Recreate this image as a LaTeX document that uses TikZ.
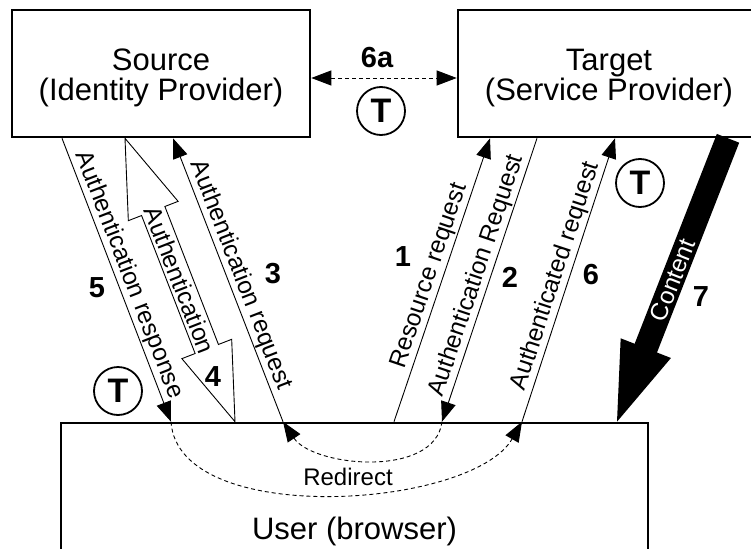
\documentclass[tikz,border=0pt]{standalone}
\usepackage{fontspec}
\setmainfont{Liberation Sans}
\usetikzlibrary{arrows.meta,calc}
\begin{document}
\begin{tikzpicture}[x=1pt,y=-1pt,
  box/.style={draw, line width=2.6pt, inner sep=0pt},
  boxtext/.style={align=center, font=\fontsize{31}{30}\selectfont, inner sep=0pt},
  conn/.style={line width=0.9pt},
  lbl/.style={font=\fontsize{24.5}{26}\selectfont, inner sep=1.5pt},
  num/.style={font=\fontsize{29}{30}\selectfont\bfseries, inner sep=0pt},
  tcirc/.style={draw, circle, line width=1.8pt, minimum size=48pt, inner sep=0pt, font=\fontsize{34}{34}\selectfont\bfseries},
  redir/.style={line width=0.9pt, dash pattern=on 4pt off 3pt},
  fatarrow/.style={line width=0.9pt},
  >={Triangle[length=20pt,width=15pt]}
]
\useasboundingbox (0,0) rectangle (751,548);
\clip (0,0) rectangle (751,548);

% boxes
\node[box, minimum width=298pt, minimum height=127pt] (src) at (161,73.5) {};
\node[box, minimum width=302pt, minimum height=127pt] (tgt) at (609,73.5) {};
\node[box, minimum width=587pt, minimum height=224pt] (usr) at (354.5,535) {};
\node[boxtext] (srcT) at (161,78) {Source\\(Identity Provider)};
\node[boxtext] (tgtT) at (609,78) {Target\\(Service Provider)};
\node[boxtext] (usrT) at (354.5,531) {User (browser)};

% anchor points on the boxes
\coordinate (s5)  at (src.south -| 62,0);
\coordinate (a4t) at (src.south -| 125,0);
\coordinate (s3)  at (src.south -| 173,0);
\coordinate (t1)  at (tgt.south -| 490,0);
\coordinate (t2)  at (tgt.south -| 537,0);
\coordinate (t6)  at (tgt.south -| 615,0);
\coordinate (c0)  at (tgt.south -| 728,0);
\coordinate (u5)  at (usr.north -| 171,0);
\coordinate (a4b) at (usr.north -| 235,0);
\coordinate (u3)  at (usr.north -| 283,0);
\coordinate (u1)  at (usr.north -| 394,0);
\coordinate (u2)  at (usr.north -| 442,0);
\coordinate (u6)  at (usr.north -| 522,0);
\coordinate (ct)  at (usr.north -| 617,0);

% 6a
\draw[redir,<->] (src.east |- 0,78) -- (tgt.west |- 0,78);
\node[num] (n6a) at (377,58) {6a};
\node[tcirc] (T1) at (381,111) {T};

% thin arrows
\draw[conn,->] (s5) -- node[lbl,sloped,above]{Authentication response} (u5);
\draw[conn,<-] (s3) -- node[lbl,sloped,above]{Authentication request} (u3);
\draw[conn,->] (u1) -- node[lbl,sloped,above]{Resource request} (t1);
\draw[conn,<-] (u2) -- node[lbl,sloped,above]{Authentication Request} (t2);
\draw[conn,->] (u6) -- node[lbl,sloped,above]{Authenticated request} (t6);

% hollow double arrow 4
\draw[fatarrow, fill=white] (a4t)
  -- ($(a4t)!78pt!(a4b)!26.7pt!90:(a4b)$)
  -- ($(a4t)!78pt!(a4b)!12.5pt!90:(a4b)$)
  -- ($(a4b)!78pt!(a4t)!12.5pt!-90:(a4t)$)
  -- ($(a4b)!78pt!(a4t)!26.7pt!-90:(a4t)$)
  -- (a4b)
  -- ($(a4b)!78pt!(a4t)!26.7pt!90:(a4t)$)
  -- ($(a4b)!78pt!(a4t)!12.5pt!90:(a4t)$)
  -- ($(a4t)!78pt!(a4b)!12.5pt!-90:(a4b)$)
  -- ($(a4t)!78pt!(a4b)!26.7pt!-90:(a4b)$)
  -- cycle;
\path (a4t) -- node[lbl,sloped]{Authentication} (a4b);

% black content arrow 7
\fill (ct)
  -- ($(ct)!79pt!(c0)!27pt!90:(c0)$)
  -- ($(ct)!79pt!(c0)!12pt!90:(c0)$)
  -- ($(c0)!12pt!-90:(ct)$)
  -- ($(c0)!12pt!90:(ct)$)
  -- ($(ct)!79pt!(c0)!12pt!-90:(c0)$)
  -- ($(ct)!79pt!(c0)!27pt!-90:(c0)$)
  -- cycle;
\path (ct) -- node[lbl,sloped,text=white]{Content} (c0);

% redirects
\draw[redir,->] (u2) .. controls +(-7,57) and +(30,45) .. (u3);
\draw[redir,->] (u5) .. controls +(7,107) and +(-50,87) .. (u6);
\node[lbl, font=\fontsize{24}{26}\selectfont] (rd) at (348,477) {Redirect};

% numbers and T marks
\node[num] (n5) at (97,288) {5};
\node[num] (n3) at (273,274) {3};
\node[num] (n4) at (213,377) {4};
\node[num] (n1) at (403,257) {1};
\node[num] (n2) at (510,277) {2};
\node[num] (n6) at (591,275) {6};
\node[num] (n7) at (701,297) {7};
\node[tcirc] (T2) at (118,391) {T};
\node[tcirc] (T3) at (640,183) {T};
\end{tikzpicture}
\end{document}
